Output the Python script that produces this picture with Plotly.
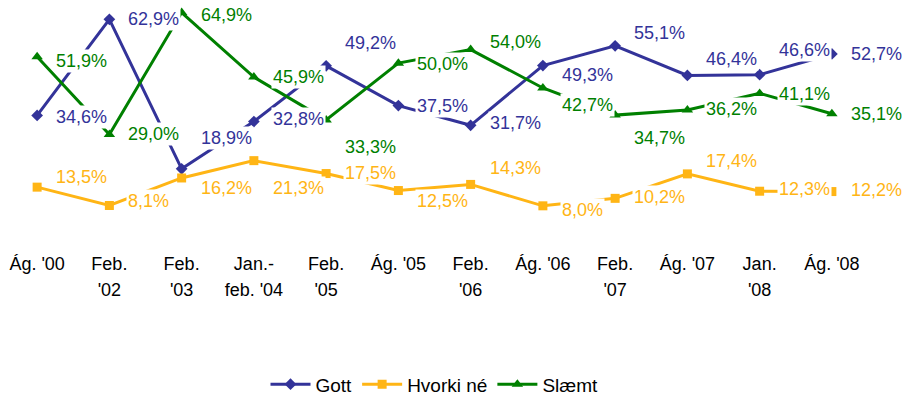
import plotly.graph_objects as go

# Survey periods: first and second line of each tick label
period_top = ["Ág. '00", "Feb.", "Feb.", "Jan.-", "Feb.", "Ág. '05",
              "Feb.", "Ág. '06", "Feb.", "Ág. '07", "Jan.", "Ág. '08"]
period_bottom = ["", "'02", "'03", "feb. '04", "'05", "",
                 "'06", "", "'07", "", "'08", ""]

gott = [34.6, 62.9, 18.9, 32.8, 49.2, 37.5, 31.7, 49.3, 55.1, 46.4, 46.6, 52.7]
hvorki = [13.5, 8.1, 16.2, 21.3, 17.5, 12.5, 14.3, 8.0, 10.2, 17.4, 12.3, 12.2]
slaemt = [51.9, 29.0, 64.9, 45.9, 33.3, 50.0, 54.0, 42.7, 34.7, 36.2, 41.1, 35.1]

# Vertical nudges (px, downward positive) for the value labels
gott_nudge = [2, 0, -31, -3, -23, 0, -2, 9, -13, -16, -25, 0]
slaemt_nudge = [4, 0, 2, 0, 27, 1, -8, 17, 23, -1, 1, 0]
hvorki_nudge = [-10, -4, 10, 27, -1, 10, -16, 4, -1, -13, -2, -2]

FONT = "Liberation Sans, Arial, sans-serif"
FS = 18
BLUE = "#333399"
YELLOW = "#FFB515"
GREEN = "#008000"

xs = list(range(len(period_top)))

series = [
    ("Gott", gott, BLUE, "diamond", 9, gott_nudge),
    ("Hvorki né", hvorki, YELLOW, "square", 9, hvorki_nudge),
    ("Slæmt", slaemt, GREEN, "triangle-up", 10, slaemt_nudge),
]

fig = go.Figure()
annotations = []
for name, vals, color, symbol, msize, nudge in series:
    fig.add_trace(go.Scatter(
        x=xs, y=vals, name=name, mode="lines+markers",
        line=dict(color=color, width=3),
        marker=dict(symbol=symbol, size=msize, color=color),
        cliponaxis=False,
    ))
    for xi, v, dy in zip(xs, vals, nudge):
        annotations.append(dict(
            x=xi, y=v, xref="x", yref="y",
            text=f"{v:.1f}".replace(".", ",") + "%",
            showarrow=False, xanchor="left", yanchor="middle",
            xshift=17, yshift=-dy,
            bgcolor="white", borderpad=1,
            font=dict(family=FONT, size=FS, color=color),
        ))

# empty trace so the second-line tick axis gets drawn
fig.add_trace(go.Scatter(x=[], y=[], xaxis="x2", yaxis="y",
                         showlegend=False, hoverinfo="skip"))

axis_common = dict(
    range=[-0.5, len(xs) - 0.5],
    tickmode="array", tickvals=xs,
    showgrid=False, zeroline=False, showline=False,
    ticks="outside", tickcolor="rgba(0,0,0,0)",
    tickfont=dict(family=FONT, size=FS, color="black"),
    tickangle=0,
)

fig.update_layout(
    width=906, height=405,
    margin=dict(l=1, r=38, t=2, b=168),
    paper_bgcolor="white", plot_bgcolor="white",
    font=dict(family=FONT, size=FS, color="black"),
    showlegend=True,
    legend=dict(orientation="h", x=0.5, xanchor="center", y=-0.655, yanchor="middle",
                font=dict(family=FONT, size=19, color="black"),
                itemwidth=40, tracegroupgap=0),
    annotations=annotations,
    xaxis=dict(axis_common, ticktext=period_top, ticklen=14),
    xaxis2=dict(axis_common, ticktext=period_bottom, ticklen=40,
                overlaying="x", side="bottom", anchor="y", matches="x"),
    yaxis=dict(range=[0, 68], visible=False, showgrid=False, zeroline=False),
)

fig.write_html("out.html")
